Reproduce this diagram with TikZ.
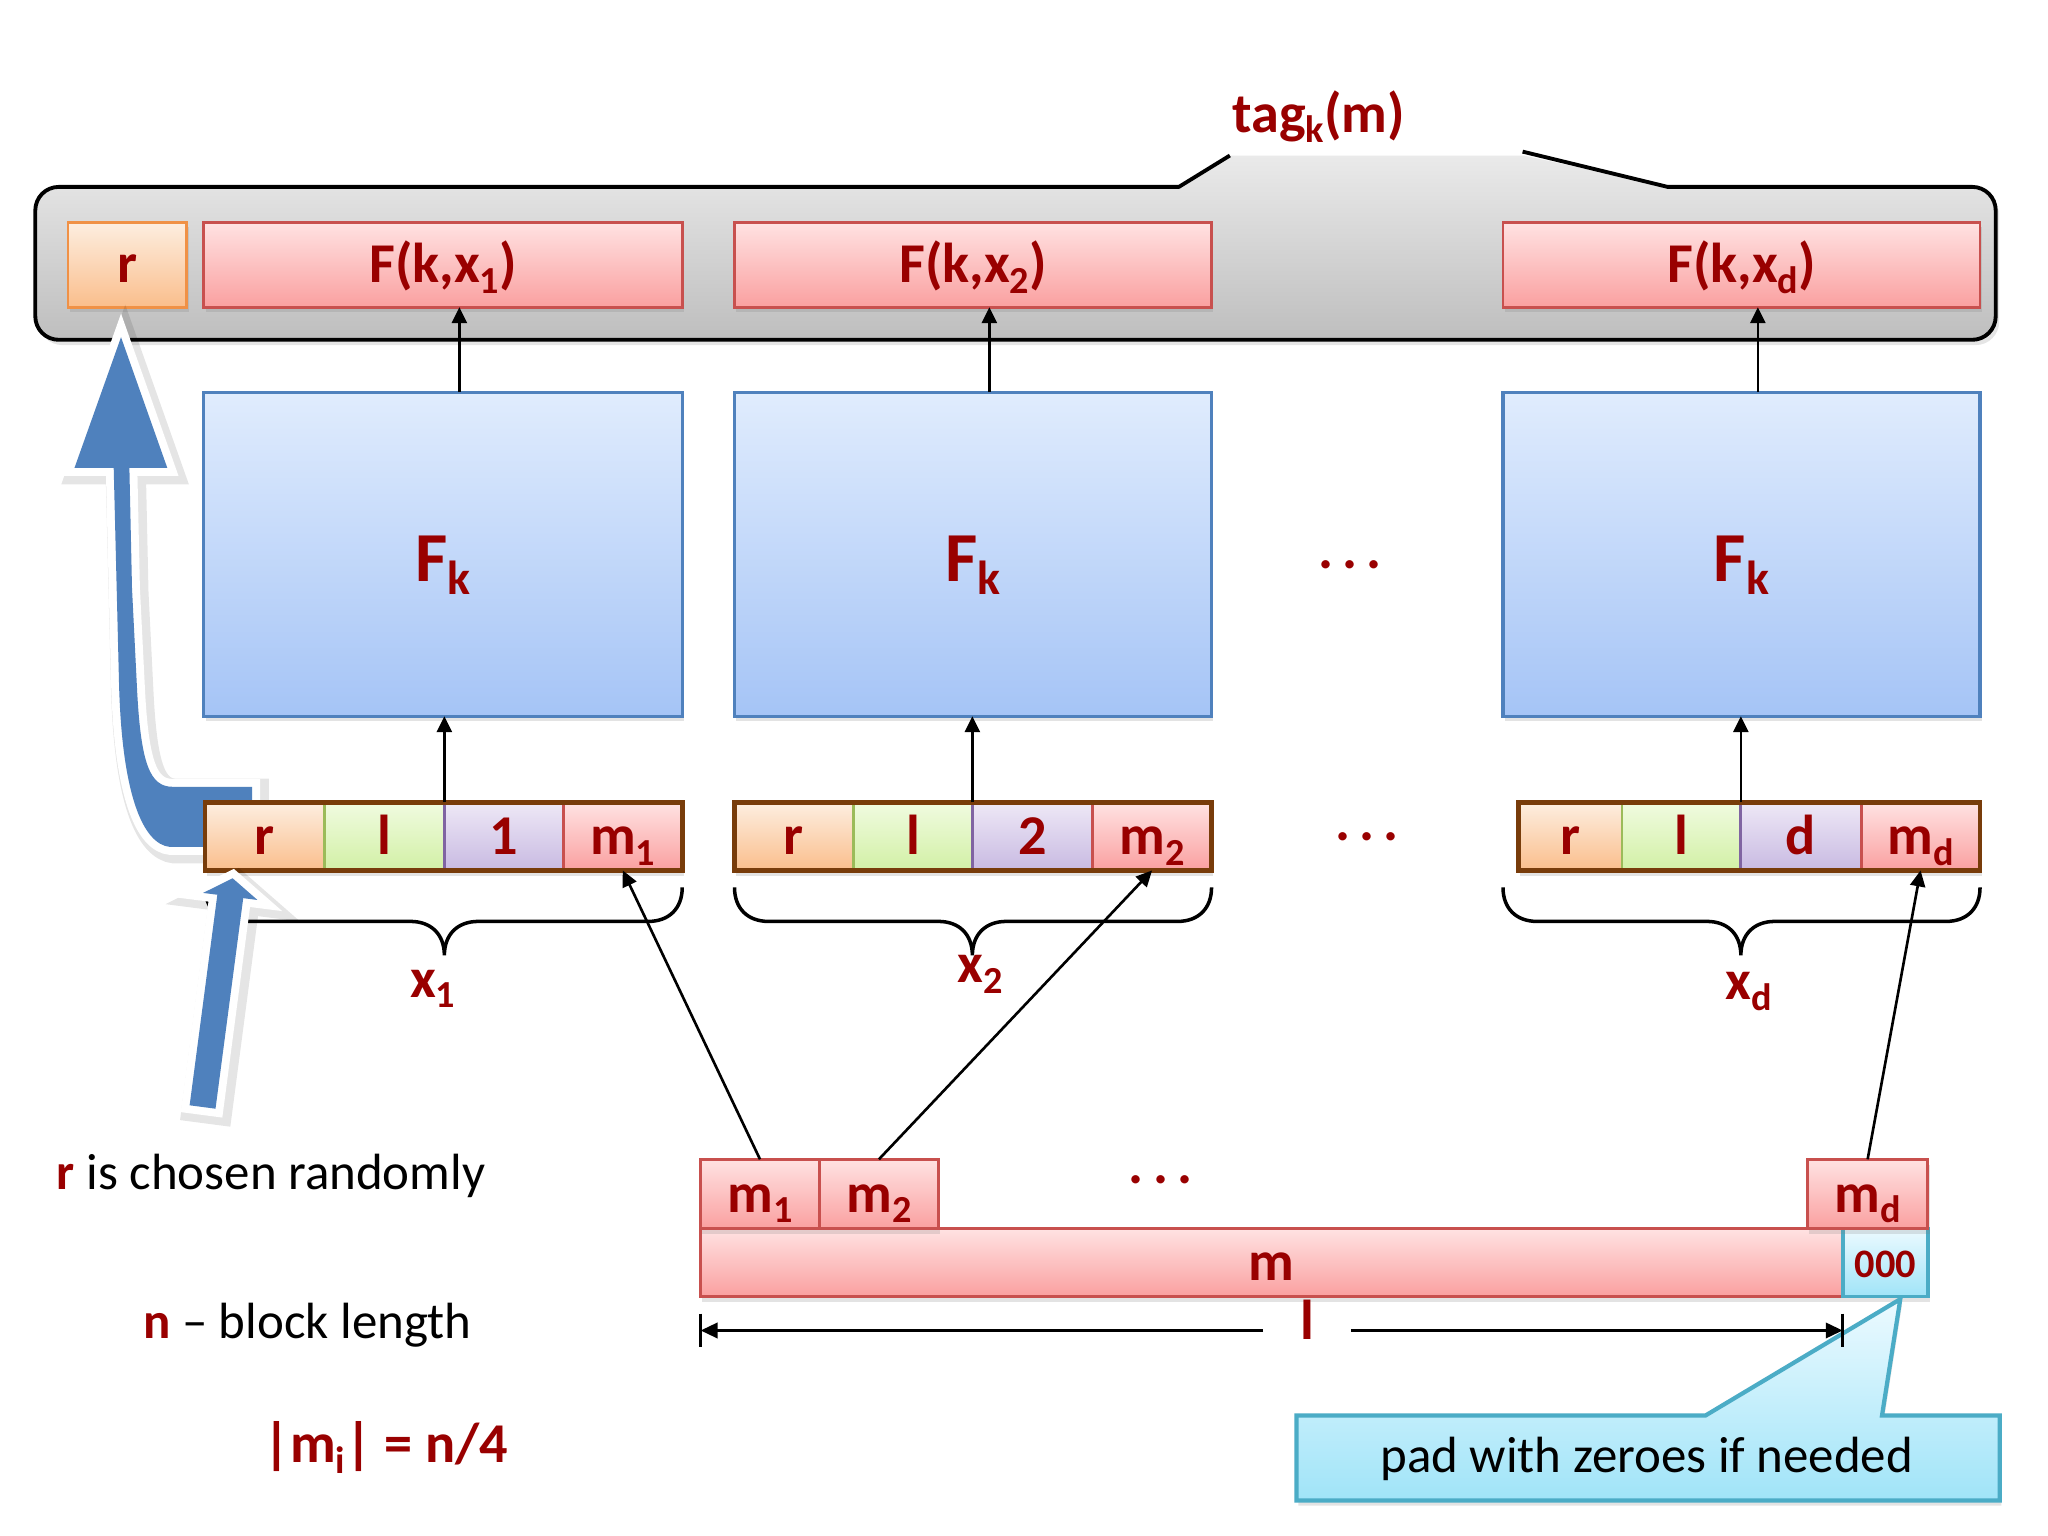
\documentclass[tikz,border=0pt]{standalone}
\usepackage{fontspec}
\setmainfont{Carlito}
\usepackage{graphicx}
\usetikzlibrary{arrows.meta,shadows}
\definecolor{dred}{RGB}{153,0,0}
\definecolor{pinkT}{RGB}{255,226,226}
\definecolor{pinkB}{RGB}{250,160,160}
\definecolor{pinkD}{RGB}{200,80,78}
\definecolor{oraT}{RGB}{253,238,224}
\definecolor{oraB}{RGB}{250,190,140}
\definecolor{oraD}{RGB}{240,145,70}
\definecolor{bluT}{RGB}{224,236,253}
\definecolor{bluB}{RGB}{165,196,246}
\definecolor{bluD}{RGB}{79,129,189}
\definecolor{grnT}{RGB}{240,251,224}
\definecolor{grnB}{RGB}{210,240,165}
\definecolor{grnD}{RGB}{155,187,89}
\definecolor{purT}{RGB}{238,232,246}
\definecolor{purB}{RGB}{200,186,226}
\definecolor{purD}{RGB}{128,100,162}
\definecolor{cyaT}{RGB}{236,250,255}
\definecolor{cyaB}{RGB}{160,228,248}
\definecolor{cyaD}{RGB}{75,172,198}
\definecolor{gryT}{RGB}{234,234,234}
\definecolor{gryB}{RGB}{190,190,190}
\definecolor{rowD}{RGB}{120,60,10}
\definecolor{arrB}{RGB}{79,129,189}
\newcommand{\sbx}[1]{\raisebox{-0.19em}{\scalebox{0.68}{#1}}}
\def\uu{0.01307cm}
\newcommand{\bx}[7]{\node[#1, minimum width={(#4-#2)*\uu}, minimum height={(#5-#3)*\uu}] (#6) at ({(#2+#4)/2},{(#3+#5)/2}) {#7};}
\newcommand{\mybrc}[3]{\draw[brc] (#1,679) .. controls (#1,695) and ({#1+10},705) .. ({#1+26},705) -- ({#3-26},705) .. controls ({#3-10},705) and (#3,715) .. (#3,731) .. controls (#3,715) and ({#3+10},705) .. ({#3+26},705) -- ({#2-26},705) .. controls ({#2-10},705) and (#2,695) .. (#2,679);}
\begin{document}
\begin{tikzpicture}[x=0.01307cm, y=-0.01307cm,
  shd/.style={drop shadow={shadow xshift=0.5pt, shadow yshift=-1.5pt, opacity=0.22}},
  lbl/.style={inner sep=0pt, outer sep=0pt, text=dred, font=\fontsize{16}{19}\selectfont\bfseries, text height=0.366cm, text depth=0pt},
  pinkbox/.style={lbl, shd, draw=pinkD, line width=0.8pt, top color=pinkT, bottom color=pinkB},
  orabox/.style={lbl, shd, draw=oraD, line width=0.8pt, top color=oraT, bottom color=oraB},
  grnbox/.style={lbl, shd, draw=grnD, line width=0.8pt, top color=grnT, bottom color=grnB},
  purbox/.style={lbl, shd, draw=purD, line width=0.8pt, top color=purT, bottom color=purB},
  blubox/.style={lbl, shd, draw=bluD, line width=0.9pt, top color=bluT, bottom color=bluB, font=\fontsize{20}{24}\selectfont\bfseries, text height=0.55cm},
  cyabox/.style={lbl, shd, draw=cyaD, line width=1pt, top color=cyaT, bottom color=cyaB, font=\fontsize{11.5}{14}\selectfont\bfseries, text height=0.29cm},
  redtxt/.style={inner sep=0pt, text=dred, font=\fontsize{16}{19}\selectfont\bfseries},
  blktxt/.style={inner sep=0pt, text=black, font=\fontsize{14.5}{17}\selectfont},
  arr/.style={-{Triangle[length=0.16cm,width=0.15cm]}, line width=0.75pt},
  dim/.style={-{Triangle[length=0.17cm,width=0.15cm]}, line width=1pt},
  brc/.style={line width=1pt},
  barrow/.style={fill=arrB,
    preaction={draw=black, draw opacity=0.10, line width=7pt, transform canvas={xshift=1.2pt, yshift=-1.2pt}},
    preaction={draw=white, line width=4.5pt}},
  rowline/.style={draw=rowD, line width=1.3pt}
]
\fill[white] (0,0) rectangle (1567,1175);
\useasboundingbox (0,0) rectangle (1567,1175);

% gray tag container
\path[top color=gryT, bottom color=gryB, drop shadow={shadow xshift=1pt, shadow yshift=-1.5pt, opacity=0.2}]
  (45,143) -- (902,143) -- (941,119) -- (1166,119) -- (1276,143) -- (1509,143)
  .. controls (1519,143) and (1527,151) .. (1527,161) -- (1527,242)
  .. controls (1527,252) and (1519,260) .. (1509,260) -- (45,260)
  .. controls (35,260) and (27,252) .. (27,242) -- (27,161)
  .. controls (27,151) and (35,143) .. (45,143) -- cycle;
\draw[line width=1.1pt, line join=round]
  (1165,116) -- (1276,143) -- (1509,143)
  .. controls (1519,143) and (1527,151) .. (1527,161) -- (1527,242)
  .. controls (1527,252) and (1519,260) .. (1509,260) -- (45,260)
  .. controls (35,260) and (27,252) .. (27,242) -- (27,161)
  .. controls (27,151) and (35,143) .. (45,143) -- (902,143) -- (941,119);
\node[redtxt, anchor=base] (tag) at (1009,101) {tag\sbx{k}(m)};

% top row of outputs
\bx{orabox}{52}{170}{143}{235}{rt}{r}
\bx{pinkbox}{156}{170}{522}{235}{f1}{F(k,x\sbx{1})}
\bx{pinkbox}{562}{170}{927}{235}{f2}{F(k,x\sbx{2})}
\bx{pinkbox}{1150}{170}{1515}{235}{fd}{F(k,x\sbx{d})}

% PRF boxes
\bx{blubox}{156}{300}{522}{548}{fa}{F\sbx{k}}
\bx{blubox}{562}{300}{927}{548}{fb}{F\sbx{k}}
\bx{blubox}{1150}{300}{1515}{548}{fc}{F\sbx{k}}
\node[redtxt] (d1) at (1033,432) {.\,.\,.};

\draw[arr] ([xshift=12.5*\uu]fa.north) -- ([xshift=12.5*\uu]f1.south);
\draw[arr] ([xshift=12.5*\uu]fb.north) -- ([xshift=12.5*\uu]f2.south);
\draw[arr] ([xshift=12.5*\uu]fc.north) -- ([xshift=12.5*\uu]fd.south);

% braces
\mybrc{157}{522}{340}
\mybrc{562}{927}{744}
\mybrc{1150}{1515}{1332}
\node[redtxt, anchor=base] (x1) at (331,763) {x\sbx{1}};
\node[redtxt, anchor=base] (x2) at (750,752) {x\sbx{2}};
\node[redtxt, anchor=base] (xd) at (1338,765) {x\sbx{d}};

% curved blue arrow
\path[barrow] (92.6,258) -- (128,358) -- (99,358) -- (101,450) -- (105,530)
  .. controls (108,585) and (115,602) .. (132,602) -- (193,602) -- (193,648) -- (130,648)
  .. controls (110,646) and (93,610) .. (91,520) -- (87,358) -- (57,358) -- cycle;

% input rows
\bx{orabox}{157}{614}{248}{666}{ra}{r}
\bx{grnbox}{248}{614}{340}{666}{la}{l}
\bx{purbox}{340}{614}{431}{666}{na}{1}
\bx{pinkbox}{431}{614}{522}{666}{ma}{m\sbx{1}}
\draw[rowline] (ra.north west) rectangle (ma.south east);

\bx{orabox}{562}{614}{653}{666}{rb}{r}
\bx{grnbox}{653}{614}{744}{666}{lb}{l}
\bx{purbox}{744}{614}{836}{666}{nb}{2}
\bx{pinkbox}{836}{614}{927}{666}{mb}{m\sbx{2}}
\draw[rowline] (rb.north west) rectangle (mb.south east);

\bx{orabox}{1162}{614}{1241}{666}{rc}{r}
\bx{grnbox}{1241}{614}{1332}{666}{lc}{l}
\bx{purbox}{1332}{614}{1424}{666}{nc}{d}
\bx{pinkbox}{1424}{614}{1515}{666}{mc}{m\sbx{d}}
\draw[rowline] (rc.north west) rectangle (mc.south east);
\node[redtxt] (d2) at (1046,640) {.\,.\,.};

\draw[arr] (la.north east) -- (la.north east |- fa.south);
\draw[arr] (lb.north east) -- (lb.north east |- fb.south);
\draw[arr] (lc.north east) -- (lc.north east |- fc.south);

% straight blue arrow
\path[barrow] (145.1,845.7) -- (166.3,684.6) -- (155.4,683.2) -- (178,672) -- (197,688.6) -- (186.1,687.2) -- (164.9,848.3) -- cycle;

% message blocks
\bx{pinkbox}{536}{940}{1410}{992}{mbar}{m}
\bx{cyabox}{1410}{940}{1475}{992}{zero}{000}
\bx{pinkbox}{536}{887}{627}{940}{bm1}{m\sbx{1}}
\bx{pinkbox}{627}{887}{718}{940}{bm2}{m\sbx{2}}
\bx{pinkbox}{1383}{887}{1475}{940}{bmd}{m\sbx{d}}
\node[redtxt] (d3) at (888,903) {.\,.\,.};

\draw[arr] (bm1.north) -- (ma.south);
\draw[arr] (bm2.north) -- (mb.south);
\draw[arr] (bmd.north) -- (mc.south);

% callout
\path[top color=cyaT, bottom color=cyaB, draw=cyaD, line width=1.2pt, shd]
  (992,1083) -- (1305,1083) -- (1454,994) -- (1440,1083) -- (1530,1083) -- (1530,1148) -- (992,1148) -- cycle;
\node[blktxt, anchor=base] (pad) at (1260,1127) {pad with zeroes if needed};

% length dimension
\coordinate (dl) at (536,1018);
\coordinate (dr) at (1410,1018);
\node[redtxt, anchor=base, minimum width=66*\uu] (lab) at (1000,1025) {l};
\draw[line width=0.8pt] (536,1005) -- (536,1031);
\draw[line width=0.8pt] (1410,1005) -- (1410,1031);
\draw[dim] (lab.west |- dl) -- (dl);
\draw[dim] (lab.east |- dr) -- (dr);

% notes
\node[blktxt, anchor=base west] (t1) at (43,910) {\textcolor{dred}{\bfseries r} is chosen randomly};
\node[blktxt, anchor=base west] (t2) at (109,1024) {\textcolor{dred}{\bfseries n} -- block length};
\node[redtxt, anchor=base west] (t3) at (201,1119) {|m\sbx{i}| = n/4};
\end{tikzpicture}
\end{document}
